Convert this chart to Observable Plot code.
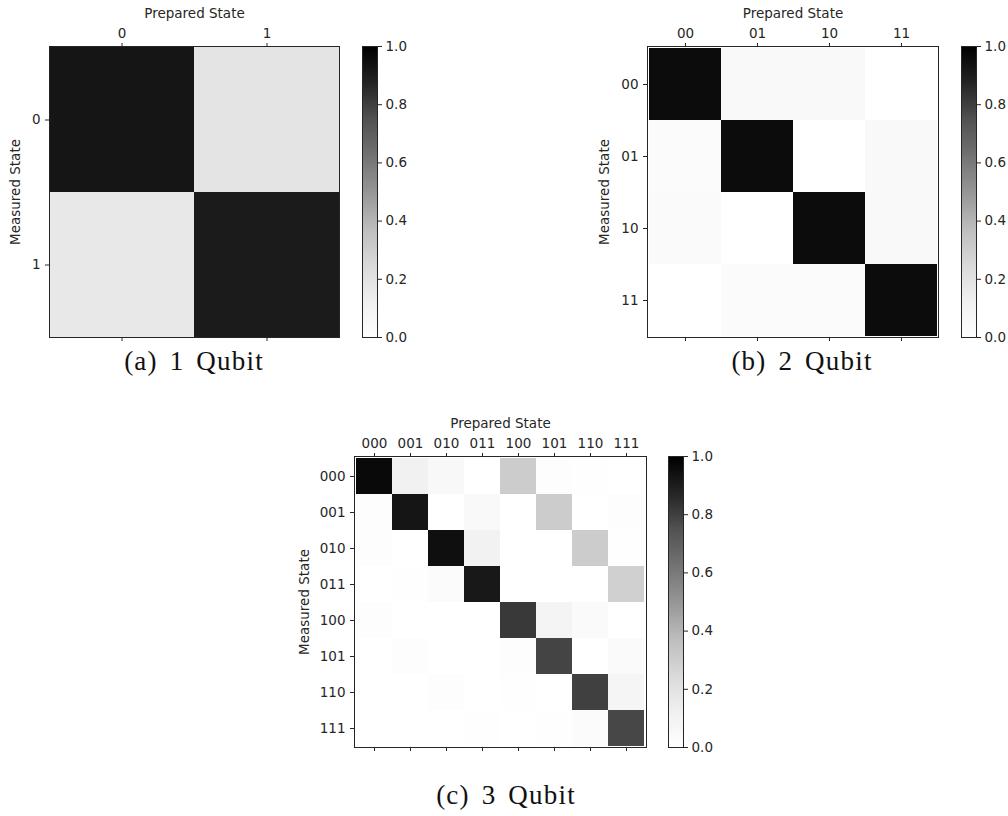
<!DOCTYPE html>
<html><head><meta charset="utf-8">
<script src="https://cdn.jsdelivr.net/npm/d3@7"></script>
<script src="https://cdn.jsdelivr.net/npm/@observablehq/plot@0.6"></script>
<style>
body{margin:0;background:#fff;}
#root{position:relative;width:1008px;height:816px;overflow:hidden;background:#fff;}
.abs{position:absolute;}
.abs svg{overflow:visible;max-width:none !important;}
.cap{position:absolute;font-family:"Liberation Serif",serif;font-size:27px;line-height:27px;letter-spacing:1.2px;word-spacing:4px;color:#111;white-space:nowrap;transform:translateX(-50%);}
</style></head><body><div id="root"></div>
<script>
// ---- data ----
const labels1 = ["0", "1"];
const matrix1 = [
  [0.93, 0.19],
  [0.17, 0.91]
];
const labels2 = ["00", "01", "10", "11"];
const matrix2 = [
  [0.96, 0.05, 0.05, 0.00],
  [0.03, 0.96, 0.00, 0.05],
  [0.04, 0.00, 0.96, 0.05],
  [0.00, 0.03, 0.03, 0.96]
];
const labels3 = ["000", "001", "010", "011", "100", "101", "110", "111"];
const matrix3 = [
  [0.97, 0.12, 0.06, 0.00, 0.31, 0.02, 0.01, 0.00],
  [0.02, 0.93, 0.00, 0.05, 0.00, 0.31, 0.00, 0.02],
  [0.02, 0.00, 0.95, 0.11, 0.00, 0.00, 0.31, 0.01],
  [0.00, 0.01, 0.03, 0.92, 0.00, 0.00, 0.00, 0.29],
  [0.02, 0.00, 0.00, 0.00, 0.82, 0.09, 0.04, 0.00],
  [0.00, 0.02, 0.00, 0.00, 0.02, 0.79, 0.00, 0.04],
  [0.00, 0.00, 0.02, 0.00, 0.01, 0.00, 0.80, 0.08],
  [0.00, 0.00, 0.00, 0.01, 0.00, 0.01, 0.03, 0.78]
];
const colorbarTicks = [0.0, 0.2, 0.4, 0.6, 0.8, 1.0];
const captions = ["(a) 1 Qubit", "(b) 2 Qubit", "(c) 3 Qubit"];

// matplotlib "Greys" colormap stops
const GREY_STOPS = [0, 0.125, 0.25, 0.375, 0.5, 0.625, 0.75, 0.875, 1];
const GREYS = ["#ffffff","#f0f0f0","#d9d9d9","#bdbdbd","#969696","#737373","#525252","#252525","#000000"];
const colorScale = {type: "linear", domain: GREY_STOPS, range: GREYS, interpolate: "rgb"};
const INK = "#262626";
const FONT = {fontFamily: "DejaVu Sans", fontSize: "13.5px", color: INK, background: "transparent", overflow: "visible", maxWidth: "none"};
const root = document.getElementById("root");

function place(node, left, top, w, h) {
  const d = document.createElement("div");
  d.className = "abs";
  d.style.left = left + "px";
  d.style.top = top + "px";
  d.style.width = w + "px";
  d.style.height = h + "px";
  d.appendChild(node);
  root.appendChild(d);
}

function heatmap(labels, matrix, fx, fy, fw, fh, yLabelOffset) {
  const data = [];
  matrix.forEach((row, i) => row.forEach((v, j) => data.push({meas: labels[i], prep: labels[j], v})));
  const ML = 70, MT = 50, MR = 10, MB = 12;
  const W = ML + fw + MR, H = MT + fh + MB;
  const p = Plot.plot({
    width: W, height: H,
    marginLeft: ML, marginTop: MT, marginRight: MR, marginBottom: MB,
    style: FONT,
    x: {domain: labels, padding: 0},
    y: {domain: labels, padding: 0},
    color: colorScale,
    marks: [
      Plot.cell(data, {x: "prep", y: "meas", fill: "v", inset: 0}),
      Plot.frame({stroke: INK, strokeWidth: 1}),
      Plot.axisX({anchor: "top", tickSize: 4, tickPadding: 5, label: "Prepared State", labelAnchor: "center", labelOffset: 38, labelArrow: "none"}),
      Plot.axisX({anchor: "bottom", tickSize: 4, tickFormat: () => "", label: null}),
      Plot.axisY({anchor: "left", tickSize: 4, tickPadding: 5, label: "Measured State", labelAnchor: "center", labelOffset: yLabelOffset, labelArrow: "none"})
    ]
  });
  place(p, fx - ML, fy - MT, W, H);
}

function colorbar(cx, fy, fh) {
  const ML = 1, MT = 10, MR = 40, MB = 10, BW = 15;
  const W = ML + BW + MR, H = MT + fh + MB;
  const p = Plot.plot({
    width: W, height: H,
    marginLeft: ML, marginTop: MT, marginRight: MR, marginBottom: MB,
    style: FONT,
    x: {domain: [0, 1], axis: null},
    y: {domain: [0, 1]},
    color: colorScale,
    marks: [
      Plot.raster({x1: 0, x2: 1, y1: 0, y2: 1, width: 1, height: 256, fill: (x, y) => y, imageRendering: "auto"}),
      Plot.frame({stroke: INK, strokeWidth: 1}),
      Plot.axisY({anchor: "right", ticks: colorbarTicks, tickFormat: d3.format(".1f"), tickSize: 4, tickPadding: 4, label: null})
    ]
  });
  place(p, cx - ML, fy - MT, W, H);
}

function caption(text, cx, top) {
  const d = document.createElement("div");
  d.className = "cap";
  d.style.left = cx + "px";
  d.style.top = top + "px";
  d.textContent = text;
  root.appendChild(d);
}

heatmap(labels1, matrix1, 49, 46, 290, 291, 39);
colorbar(362, 46, 291);
heatmap(labels2, matrix2, 647, 46, 291, 291, 48);
colorbar(961, 46, 291);
heatmap(labels3, matrix3, 354, 456, 292, 291, 55);
colorbar(668, 456, 291);

caption(captions[0], 194, 348);
caption(captions[1], 802, 348);
caption(captions[2], 506, 782);
</script>
</body></html>
